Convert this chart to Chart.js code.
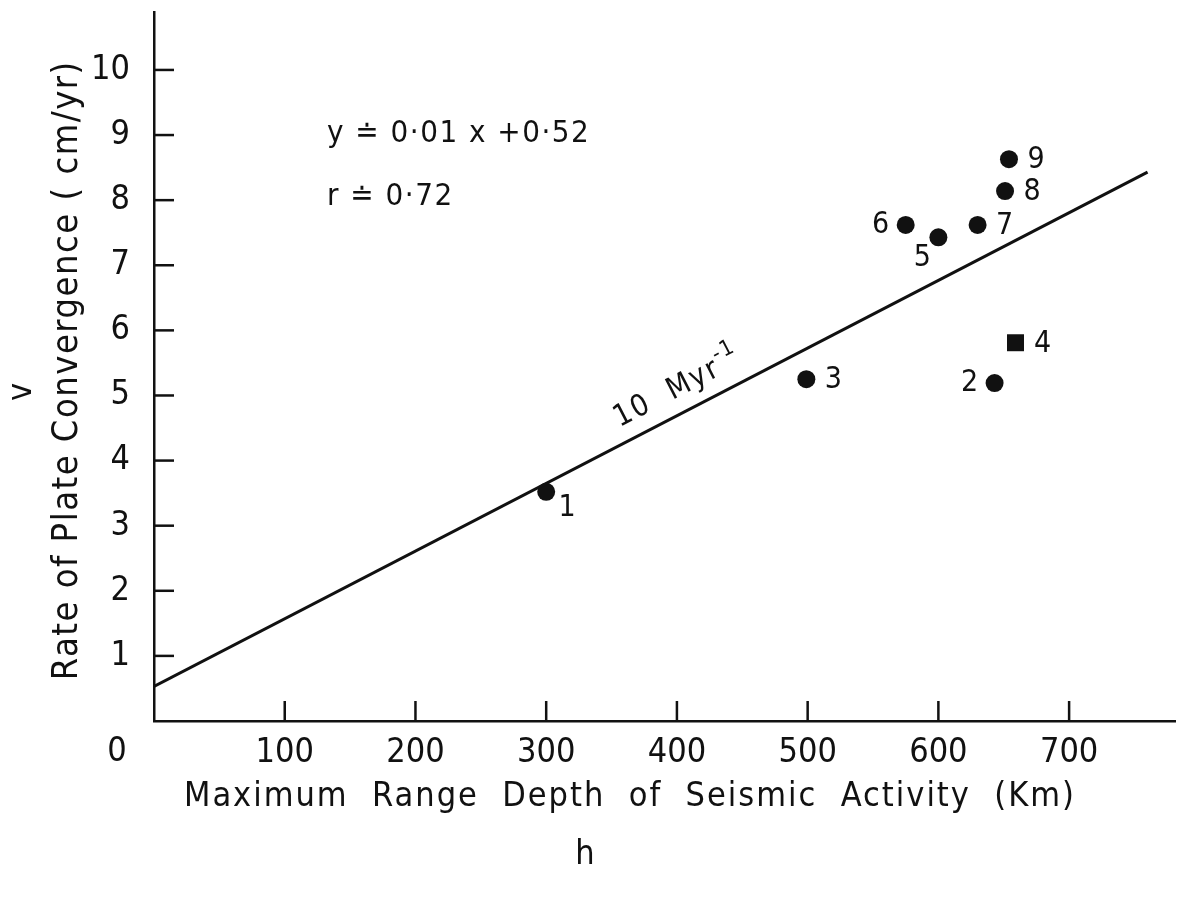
<!DOCTYPE html>
<html>
<head>
<meta charset="utf-8">
<script src="https://cdn.jsdelivr.net/npm/chart.js@4.4.1/dist/chart.umd.min.js"></script>
<style>
  html, body { margin: 0; padding: 0; background: #fff; }
</style>
</head>
<body>
<canvas id="myChart" width="1178" height="897"></canvas>
<script>
// data
const pointIds = ['1', '2', '3', '4', '5', '6', '7', '8', '9']
const depthKm = [300, 643, 499, 659, 600, 575, 630, 651, 654]
const rateCm = [3.52, 5.19, 5.25, 5.81, 7.43, 7.62, 7.62, 8.14, 8.63]
const markerStyle = ['circle', 'circle', 'circle', 'rect', 'circle', 'circle', 'circle', 'circle', 'circle']
const labelSide = ['below-right', 'left', 'right', 'right', 'below-left', 'left', 'right', 'right', 'right']

// regression line as drawn
const trendX = [0, 760]
const trendY = [0.53, 8.43]

const xTicks = [100, 200, 300, 400, 500, 600, 700]
const yTicks = [1, 2, 3, 4, 5, 6, 7, 8, 9, 10]

const INK = '#111'
const NARROW = "'DejaVu Sans Condensed', 'Liberation Sans', sans-serif"

const sideOffset = {
  'right': [27, 1],
  'left': [-25, 0],
  'below-left': [-16, 21],
  'below-right': [21, 16]
}

// spread a string so it covers the given width
let fitText = (ctx, text, cx, cy, width) => {
  ctx.letterSpacing = '0px'
  const w0 = ctx.measureText(text).width
  const sp = (width - w0) / text.length
  ctx.letterSpacing = sp + 'px'
  ctx.fillText(text, cx + sp / 2, cy)
  ctx.letterSpacing = '0px'
}

let paperAxes = {
  id: 'paperAxes',
  afterDatasetsDraw(chart) {
    const ctx = chart.ctx
    const meta = chart.getDatasetMeta(1)
    ctx.save()
    ctx.fillStyle = INK
    ctx.font = '30px ' + NARROW
    ctx.textAlign = 'center'
    ctx.textBaseline = 'middle'
    meta.data.forEach((pt, i) => {
      const off = sideOffset[labelSide[i]]
      ctx.fillText(pointIds[i], pt.x + off[0], pt.y + off[1])
    })
    ctx.restore()
  },
  afterDraw(chart) {
    const ctx = chart.ctx
    const { x, y } = chart.scales
    const area = chart.chartArea
    ctx.save()
    ctx.strokeStyle = INK
    ctx.fillStyle = INK
    ctx.lineWidth = 2.5

    // inward tick marks
    x.ticks.forEach(t => {
      const px = x.getPixelForValue(t.value)
      ctx.beginPath()
      ctx.moveTo(px, area.bottom)
      ctx.lineTo(px, area.bottom - 20)
      ctx.stroke()
    })
    y.ticks.forEach(t => {
      const py = y.getPixelForValue(t.value)
      ctx.beginPath()
      ctx.moveTo(area.left, py)
      ctx.lineTo(area.left + 20, py)
      ctx.stroke()
    })

    // origin label
    ctx.font = '34px ' + NARROW
    ctx.textAlign = 'center'
    ctx.textBaseline = 'middle'
    ctx.fillText('0', area.left - 37, area.bottom + 31)

    // axis titles
    ctx.font = '34px ' + NARROW
    fitText(ctx, 'Maximum  Range  Depth  of  Seismic  Activity  (Km)', area.left + 475, area.bottom + 76, 892)
    ctx.fillText('h', area.left + 431, area.bottom + 134)

    ctx.save()
    ctx.translate(68, 371)
    ctx.rotate(-Math.PI / 2)
    ctx.font = '36px ' + NARROW
    fitText(ctx, 'Rate of Plate Convergence ( cm/yr)', 0, 0, 620)
    ctx.restore()

    ctx.save()
    ctx.translate(22, 392)
    ctx.rotate(-Math.PI / 2)
    ctx.font = '34px ' + NARROW
    ctx.fillText('v', 0, 0)
    ctx.restore()

    // regression text
    ctx.font = '31px ' + NARROW
    ctx.textAlign = 'left'
    ctx.letterSpacing = '1.5px'
    ctx.fillText('y \u2250 0\u00b701 x +0\u00b752', 327, 134)
    ctx.fillText('r \u2250 0\u00b772', 327, 197)
    ctx.letterSpacing = '0px'

    // rate label along the line
    const p0x = x.getPixelForValue(trendX[0]), p0y = y.getPixelForValue(trendY[0])
    const p1x = x.getPixelForValue(trendX[1]), p1y = y.getPixelForValue(trendY[1])
    const ang = Math.atan2(p1y - p0y, p1x - p0x)
    const ax = x.getPixelForValue(397)
    const ay = p0y + (p1y - p0y) * (ax - p0x) / (p1x - p0x)
    ctx.save()
    ctx.translate(ax, ay)
    ctx.rotate(ang)
    ctx.textAlign = 'left'
    ctx.font = '30px ' + NARROW
    ctx.letterSpacing = '2px'
    const main = '10  Myr'
    const w1 = ctx.measureText(main).width
    ctx.font = '22px ' + NARROW
    const w2 = ctx.measureText('-1').width
    const start = 18 - (w1 + w2) / 2
    ctx.font = '30px ' + NARROW
    ctx.fillText(main, start, -24)
    ctx.font = '22px ' + NARROW
    ctx.fillText('-1', start + w1, -36)
    ctx.restore()

    ctx.restore()
  }
}

let createChart = () => {
  const ctx = document.getElementById('myChart')
  new Chart(ctx, {
    type: 'scatter',
    data: {
      datasets: [{
        type: 'line',
        data: trendX.map((v, i) => ({ x: v, y: trendY[i] })),
        borderColor: INK,
        borderWidth: 3,
        pointRadius: 0,
        fill: false
      }, {
        data: depthKm.map((v, i) => ({ x: v, y: rateCm[i] })),
        backgroundColor: INK,
        borderWidth: 0,
        pointStyle: markerStyle,
        pointRadius: markerStyle.map(s => s === 'rect' ? 12 : 9)
      }]
    },
    options: {
      responsive: false,
      devicePixelRatio: 1,
      animation: false,
      layout: { autoPadding: false, padding: { left: 0, top: 12, right: 3, bottom: 0 } },
      plugins: { legend: { display: false }, tooltip: { enabled: false } },
      scales: {
        x: {
          type: 'linear',
          min: 0,
          max: 781,
          grid: { display: false },
          border: { display: true, color: INK, width: 2.5 },
          ticks: { color: INK, font: { family: NARROW, size: 34 }, padding: 4, maxRotation: 0 },
          afterBuildTicks: s => { s.ticks = xTicks.map(v => ({ value: v })) },
          afterFit: s => { s.height = 176; s.paddingLeft = 0; s.paddingRight = 0 }
        },
        y: {
          min: 0,
          max: 10.89,
          grid: { display: false },
          border: { display: true, color: INK, width: 2.5 },
          ticks: { color: INK, font: { family: NARROW, size: 34 }, padding: 16 },
          afterBuildTicks: s => { s.ticks = yTicks.map(v => ({ value: v })) },
          afterFit: s => { s.width = 154; s.paddingTop = 0; s.paddingBottom = 0 }
        }
      }
    },
    plugins: [paperAxes]
  })
}

createChart()
</script>
</body>
</html>
